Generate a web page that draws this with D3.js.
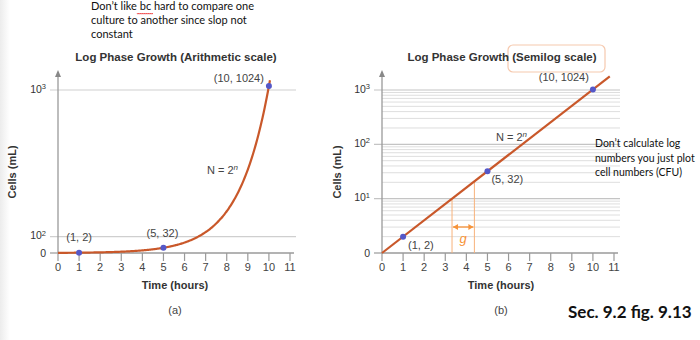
<!DOCTYPE html>
<html><head><meta charset="utf-8">
<script src="https://cdn.jsdelivr.net/npm/d3@7"></script>
<style>body{margin:0;background:#fff}svg{display:block}</style>
</head><body>
<svg id="c" width="700" height="340"></svg>
<script>
// ---- data ----
const hours = [0,1,2,3,4,5,6,7,8,9,10,11];
const xTickLabels = ["0","1","2","3","4","5","6","7","8","9","10","11"];
const highlightPoints = [{n:1,v:2,label:"(1, 2)"},{n:5,v:32,label:"(5, 32)"},{n:10,v:1024,label:"(10, 1024)"}];
const curveEndArith = 10.08;
const curveEndLog = 10.8;
const arithTickValues = [0,100,1000];
const arithTickLabels = ["0","10","10"];
const arithTickSup = ["","2","3"];
const logTickValues = [1,10,100,1000];
const logTickLabels = ["0","10","10","10"];
const logTickSup = ["","1","2","3"];
const genStart = 3.32, genEnd = 4.38;
const noteA = ["Don\u2019t like bc hard to compare one","culture to another since slop not","constant"];
const noteB = ["Don\u2019t calculate log","numbers you just plot","cell numbers (CFU)"];

const svg = d3.select("#c");
const ORANGE = "#c9582a", BLUE = "#5558c8", AXIS = "#9a9a9a", GRID = "#cfcfcf", TXT = "#333";
const FONT = "'Liberation Sans', Arial, sans-serif";
const NOTEFONT = "Lato, 'Open Sans', sans-serif";

// left faint edge
const defs = svg.append("defs");
const lg = defs.append("linearGradient").attr("id","edge").attr("x1",0).attr("x2",1);
lg.append("stop").attr("offset",0).attr("stop-color","#ececec");
lg.append("stop").attr("offset",1).attr("stop-color","#ffffff");
svg.append("rect").attr("x",0).attr("y",0).attr("width",10).attr("height",340).attr("fill","url(#edge)");

function supText(g, x, y, base, sup, anchor){
  const t = g.append("text").attr("x",x).attr("y",y).attr("text-anchor",anchor)
    .attr("font-family",FONT).attr("font-size",10.5).attr("fill",TXT).attr("dy","0.35em");
  t.append("tspan").text(base);
  if (sup) t.append("tspan").attr("font-size",7.5).attr("dy","-0.5em").text(sup);
  return t;
}

function xAxisDraw(g, x, y0){
  g.append("line").attr("x1",x(0)).attr("x2",x(11)+4).attr("y1",y0).attr("y2",y0).attr("stroke",AXIS).attr("stroke-width",1.3);
  hours.forEach((h,i)=>{
    g.append("line").attr("x1",x(h)).attr("x2",x(h)).attr("y1",y0).attr("y2",y0+8).attr("stroke",AXIS).attr("stroke-width",1.2);
    g.append("text").attr("x",x(h)).attr("y",y0+18).attr("text-anchor","middle").attr("font-family",FONT)
      .attr("font-size",11).attr("fill","#444").text(xTickLabels[i]);
  });
}
function yAxisLine(g, xPos, yBottom, yTop){
  g.append("line").attr("x1",xPos).attr("x2",xPos).attr("y1",yBottom).attr("y2",yTop+6).attr("stroke",AXIS).attr("stroke-width",1.3);
  g.append("path").attr("d",`M${xPos-3},${yTop+7}L${xPos},${yTop}L${xPos+3},${yTop+7}Z`).attr("fill","#888");
}
function labels(g, cx, title, sub){
  g.append("text").attr("x",cx).attr("y",289).attr("text-anchor","middle").attr("font-family",FONT)
    .attr("font-size",11).attr("font-weight","bold").attr("fill",TXT).text("Time (hours)");
  g.append("text").attr("x",cx).attr("y",314).attr("text-anchor","middle").attr("font-family",FONT)
    .attr("font-size",11).attr("fill","#444").text(sub);
}

// ===== Chart A (arithmetic) =====
const gA = svg.append("g");
const xA = d3.scaleLinear().domain([0,11]).range([58,290]);
const yA = d3.scaleLinear().domain([0,1000]).range([253,90]);
arithTickValues.forEach((v,i)=>{
  if (v>0) gA.append("line").attr("x1",xA(0)-8).attr("x2",296).attr("y1",yA(v)).attr("y2",yA(v)).attr("stroke",GRID).attr("stroke-width",1.2);
  else gA.append("line").attr("x1",xA(0)-8).attr("x2",xA(0)).attr("y1",yA(v)).attr("y2",yA(v)).attr("stroke",AXIS).attr("stroke-width",1.2);
  supText(gA, xA(0)-12, yA(v)-(v>0?1:0), arithTickLabels[i], arithTickSup[i], "end");
});
yAxisLine(gA, xA(0), 253, 70);
xAxisDraw(gA, xA, 253);
const lineA = d3.line().x(d=>xA(d)).y(d=>yA(Math.pow(2,d))).curve(d3.curveMonotoneX);
gA.append("path").datum(d3.range(0,curveEndArith+0.001,0.05)).attr("d",lineA).attr("fill","none").attr("stroke",ORANGE).attr("stroke-width",2.2);
highlightPoints.forEach(p=>{
  gA.append("circle").attr("cx",xA(p.n)).attr("cy",yA(p.v)).attr("r",3).attr("fill",BLUE);
});
const ta = [{dx:0,dy:-12,a:"middle"},{dx:-1,dy:-11,a:"middle"},{dx:-5,dy:-4,a:"end"}];
highlightPoints.forEach((p,i)=>{
  gA.append("text").attr("x",xA(p.n)+ta[i].dx).attr("y",yA(p.v)+ta[i].dy).attr("text-anchor",ta[i].a)
    .attr("font-family",FONT).attr("font-size",11).attr("fill","#444").text(p.label);
});
{
  const t = gA.append("text").attr("x",238).attr("y",174).attr("text-anchor","end").attr("font-family",FONT).attr("font-size",11).attr("fill","#444");
  t.append("tspan").text("N = 2");
  t.append("tspan").attr("font-size",8).attr("font-style","italic").attr("dy","-0.5em").text("n");
}
gA.append("text").attr("x",176).attr("y",61).attr("text-anchor","middle").attr("font-family",FONT)
  .attr("font-size",11.5).attr("font-weight","bold").attr("fill",TXT).text("Log Phase Growth (Arithmetic scale)");
gA.append("text").attr("transform","translate(16,172) rotate(-90)").attr("text-anchor","middle").attr("font-family",FONT)
  .attr("font-size",11).attr("font-weight","bold").attr("fill",TXT).text("Cells (mL)");
labels(gA, 175, "", "(a)");

// ===== Chart B (semilog) =====
const gB = svg.append("g");
const xB = d3.scaleLinear().domain([0,11]).range([382,614]);
const yB = d3.scaleLog().domain([1,1000]).range([253,90]);
[1,10,100].forEach(dec=>{
  d3.range(2,10).forEach(m=>{
    gB.append("line").attr("x1",xB(0)).attr("x2",620).attr("y1",yB(dec*m)).attr("y2",yB(dec*m)).attr("stroke","#dedede").attr("stroke-width",1);
  });
});
logTickValues.forEach((v,i)=>{
  if (v>1) gB.append("line").attr("x1",xB(0)-8).attr("x2",620).attr("y1",yB(v)).attr("y2",yB(v)).attr("stroke","#c4c4c4").attr("stroke-width",1.2);
  else gB.append("line").attr("x1",xB(0)-8).attr("x2",xB(0)).attr("y1",yB(v)).attr("y2",yB(v)).attr("stroke",AXIS).attr("stroke-width",1.2);
  supText(gB, xB(0)-12, yB(v)-(v>1?1:0), logTickLabels[i], logTickSup[i], "end");
});
yAxisLine(gB, xB(0), 253, 70);
xAxisDraw(gB, xB, 253);
const GOR = "#f7943a";
[genStart, genEnd].forEach(n=>{
  gB.append("line").attr("x1",xB(n)).attr("x2",xB(n)).attr("y1",yB(Math.pow(2,n))).attr("y2",253).attr("stroke","#f8b27a").attr("stroke-width",1);
});
const ay = 227;
gB.append("line").attr("x1",xB(genStart)+1).attr("x2",xB(genEnd)-1).attr("y1",ay).attr("y2",ay).attr("stroke",GOR).attr("stroke-width",1.3);
gB.append("path").attr("d",`M${xB(genStart)+1},${ay}l5,-3v6Z M${xB(genEnd)-1},${ay}l-5,-3v6Z`).attr("fill",GOR);
gB.append("text").attr("x",(xB(genStart)+xB(genEnd))/2).attr("y",243).attr("text-anchor","middle").attr("font-family",FONT)
  .attr("font-size",13).attr("font-style","italic").attr("fill",GOR).text("g");
const lineB = d3.line().x(d=>xB(d)).y(d=>yB(Math.pow(2,d)));
gB.append("path").datum([0,curveEndLog]).attr("d",lineB).attr("fill","none").attr("stroke",ORANGE).attr("stroke-width",2.2);
highlightPoints.forEach(p=>{
  gB.append("circle").attr("cx",xB(p.n)).attr("cy",yB(p.v)).attr("r",3).attr("fill",BLUE);
});
const tb = [{dx:5,dy:12,a:"start"},{dx:4,dy:12,a:"start"},{dx:-4,dy:-8,a:"end"}];
highlightPoints.forEach((p,i)=>{
  gB.append("text").attr("x",xB(p.n)+tb[i].dx).attr("y",yB(p.v)+tb[i].dy).attr("text-anchor",tb[i].a)
    .attr("font-family",FONT).attr("font-size",11).attr("fill","#444").text(p.label);
});
{
  const t = gB.append("text").attr("x",527).attr("y",141).attr("text-anchor","end").attr("font-family",FONT).attr("font-size",11).attr("fill","#444");
  t.append("tspan").text("N = 2");
  t.append("tspan").attr("font-size",8).attr("font-style","italic").attr("dy","-0.5em").text("n");
}
gB.append("rect").attr("x",508).attr("y",45).attr("width",97).attr("height",27).attr("rx",5)
  .attr("fill","none").attr("stroke","#f6c9ae").attr("stroke-width",1.2);
gB.append("text").attr("x",502).attr("y",61).attr("text-anchor","middle").attr("font-family",FONT)
  .attr("font-size",11.5).attr("font-weight","bold").attr("fill",TXT).text("Log Phase Growth (Semilog scale)");
gB.append("text").attr("transform","translate(341,172) rotate(-90)").attr("text-anchor","middle").attr("font-family",FONT)
  .attr("font-size",11).attr("font-weight","bold").attr("fill",TXT).text("Cells (mL)");
labels(gB, 501, "", "(b)");

// ===== notes =====
noteA.forEach((s,i)=>{
  svg.append("text").attr("x",91).attr("y",10+i*14).attr("font-family",NOTEFONT).attr("font-size",11).attr("fill","#111").text(s);
});
{
  const probe = svg.append("text").attr("font-family",NOTEFONT).attr("font-size",11).text("Don\u2019t like ");
  const w0 = probe.node().getComputedTextLength();
  probe.text("Don\u2019t like bc"); const w1 = probe.node().getComputedTextLength(); probe.remove();
  let d = `M${91+w0},13`; for (let x=91+w0; x<91+w1; x+=2) d += `l1,1.2l1,-1.2`;
  svg.append("path").attr("d",d).attr("fill","none").attr("stroke","#e33").attr("stroke-width",0.8);
}
noteB.forEach((s,i)=>{
  svg.append("text").attr("x",595).attr("y",147+i*14.5).attr("font-family",NOTEFONT).attr("font-size",10.5).attr("fill","#111").text(s);
});
svg.append("text").attr("x",568).attr("y",318).attr("font-family",NOTEFONT).attr("font-size",17).attr("font-weight","bold").attr("fill","#111").text("Sec. 9.2 fig. 9.13");
</script>
</body></html>
